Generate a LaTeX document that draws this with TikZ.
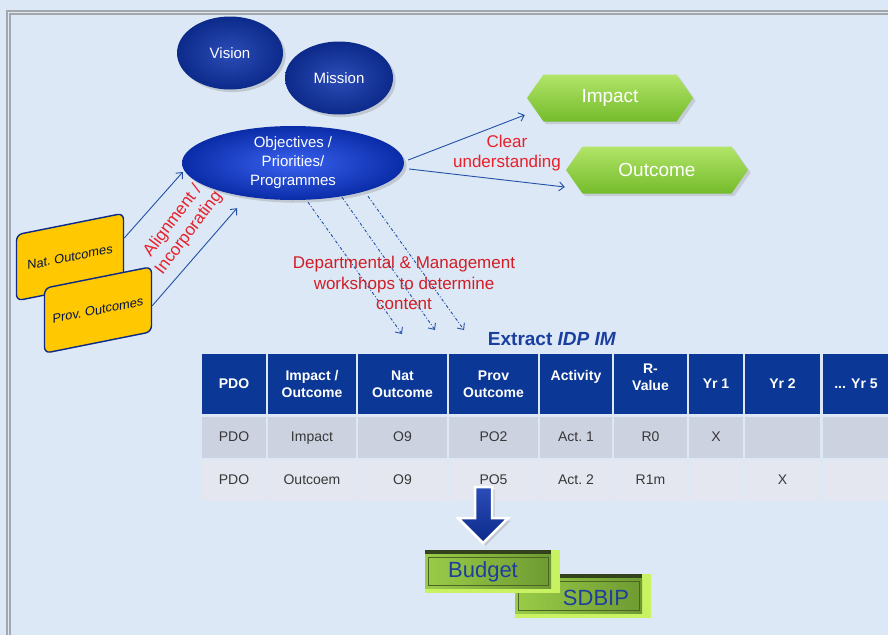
\documentclass[tikz,border=0pt]{standalone}
\usepackage{fontspec}
\setmainfont{Liberation Sans}
\usetikzlibrary{calc,shapes.geometric,shapes.symbols,arrows.meta,shadows}

\definecolor{bgblue}{HTML}{DCE8F5}
\definecolor{framegray}{HTML}{A3A6AA}
\definecolor{navy}{HTML}{0C2A8A}
\definecolor{navylight}{HTML}{2C4DB8}
\definecolor{royal}{HTML}{3A62F0}
\definecolor{royaldark}{HTML}{0A2CA8}
\definecolor{linkblue}{HTML}{2350A8}
\definecolor{alertred}{HTML}{E8202A}
\definecolor{boxyellow}{HTML}{FFC800}
\definecolor{hexgreen}{HTML}{B2E468}
\definecolor{hexgreendark}{HTML}{74BC2C}
\definecolor{hdrblue}{HTML}{0B3796}
\definecolor{rowone}{HTML}{CCD2E0}
\definecolor{rowtwo}{HTML}{E4E7EF}
\definecolor{extractblue}{HTML}{1B3FA0}
\definecolor{bevelface}{HTML}{9ACC48}
\definecolor{bevelfacedark}{HTML}{6E9A32}
\definecolor{bevellight}{HTML}{C9F263}
\definecolor{beveltop}{HTML}{33421A}
\definecolor{bevelline}{HTML}{4A6622}
\definecolor{budgetblue}{HTML}{1E3E9E}

% bevelled green plate: name, x1, y1, x2, y2
\newcommand\bevelplate[5]{%
  \fill[bevellight] (#2,#3) rectangle (#4,#5);
  \fill[beveltop] (#2,#3) -- (#4-9,#3) -- (#4-9,#3+4) -- (#2,#3+4) -- cycle;
  \shade[left color=bevelface, right color=bevelfacedark] (#2,#3+4) rectangle (#4-9,#5-5);
  \draw[bevelline, line width=0.7pt] (#2+3,#3+7) rectangle (#4-12,#5-8);
  \coordinate (#1) at ({(#2+#4-9)/2},{(#3+#5)/2});
}

\tikzset{
  oval/.style={ellipse, inner sep=0pt, text=white, align=center,
    font=\fontsize{15}{19}\selectfont, drop shadow={opacity=0.3}},
  outcomebox/.style={rectangle, rounded corners=6pt, draw=navy, line width=1.4pt,
    fill=boxyellow, text=navy!50!black, font=\fontsize{12.8}{15}\selectfont,
    minimum width=107pt, inner sep=0pt, yslant=0.2},
  greenhex/.style={signal, signal to=east and west, signal pointer angle=110,
    top color=hexgreen, bottom color=hexgreendark, text=white, inner sep=0pt,
    font=\fontsize{19}{22}\selectfont, minimum height=47pt, drop shadow={opacity=0.25}},
  link/.style={linkblue, line width=0.9pt, -{Straight Barb[length=5pt,width=9pt]}},
  linkdash/.style={link, dash dot},
  redlabel/.style={text=alertred, align=center, font=\fontsize{17}{20}\selectfont},
  cell/.style={rectangle, inner sep=0pt, align=center},
  hdrcell/.style={cell, fill=hdrblue, text=white, minimum height=60pt,
    font=\bfseries\fontsize{14}{17}\selectfont},
  rowcell/.style={cell, text=black!78, minimum height=41pt, text height=10pt, text depth=3pt,
    font=\fontsize{14}{17}\selectfont},
}

\begin{document}
\begin{tikzpicture}[x=1pt,y=-1pt]
  \useasboundingbox (0,0) rectangle (888,635);
  \fill[bgblue] (0,0) rectangle (888,635);
  \draw[framegray, line width=1.2pt] (7,635) -- (7,11) -- (888,11);
  \draw[framegray, line width=1.2pt] (10,635) -- (10,14) -- (888,14);

  % top ovals
  \node[oval, minimum width=106pt, minimum height=73pt, inner color=navylight, outer color=navy] (vision) at (230,53) {Vision};
  \node[oval, minimum width=108pt, minimum height=73pt, inner color=navylight, outer color=navy] (mission) at (339,78) {Mission};
  \node[oval, minimum width=222pt, minimum height=74pt, inner color=royal, outer color=royaldark] (obj) at (293,163) {Objectives /\\Priorities/\\Programmes};

  % yellow outcome cards
  \node[outcomebox, minimum height=66pt] (nat) at (70,257) {Nat.\ Outcomes};
  \node[outcomebox, minimum height=65pt] (prov) at (98,310) {Prov.\ Outcomes};

  \draw[link] ($(nat.north east)!0.38!(nat.south east)$) -- ($(obj.west)+(1,9)$);
  \draw[link] ($(prov.north east)!0.6!(prov.south east)$) -- ($(obj.south)+(-56,8)$);
  \node[redlabel, rotate=53] (align) at (181,227) {Alignment /\\Incorporating};

  % impact / outcome
  \node[greenhex, minimum width=166pt] (impact) at (610,98) {Impact};
  \node[greenhex, minimum width=182pt] (outcome) at (657,170) {Outcome};
  \draw[link] ($(obj.east)+(4,-3)$) -- ($(impact.west)+(-2,17)$);
  \draw[link] ($(obj.east)+(5,6)$) -- ($(outcome.west)+(-1,17)$);
  \node[redlabel] (clear) at (507,153) {Clear\\understanding};

  % workshops
  \coordinate (ws1) at (402,334);
  \coordinate (ws2) at (435,330);
  \coordinate (ws3) at (464,330);
  \draw[linkdash] ($(obj.south)+(15,2)$) -- (ws1);
  \draw[linkdash] ($(obj.south)+(49,-3)$) -- (ws2);
  \draw[linkdash] ($(obj.south)+(75,-4)$) -- (ws3);
  \node[redlabel, text=alertred!90!black, font=\fontsize{17}{20.5}\selectfont] (workshop) at (404,283) {Departmental \& Management\\workshops to determine\\content};

  % IDP extract table
  \node[text=extractblue, font=\bfseries\fontsize{19}{22}\selectfont] (extract) at (552,339) {Extract \textit{IDP IM}};

  \node[hdrcell, minimum width=64pt] (h1) at (234,384) {PDO};
  \node[hdrcell, minimum width=88pt] (h2) at (312,384) {Impact /\\Outcome};
  \node[hdrcell, minimum width=89pt] (h3) at (402.5,384) {Nat\\Outcome};
  \node[hdrcell, minimum width=89pt] (h4) at (493.5,384) {Prov\\Outcome};
  \node[hdrcell, minimum width=72pt] (h5) at (576,384) {};
  \node[hdrcell, fill=none] (h5t) at (576,377) {Activity};
  \node[hdrcell, minimum width=73pt] (h6) at (650.5,384) {};
  \node[hdrcell, fill=none] (h6t) at (650.5,377) {R-\\Value};
  \node[hdrcell, minimum width=54pt] (h7) at (716,384) {Yr 1};
  \node[hdrcell, minimum width=75pt] (h8) at (782.5,384) {Yr 2};
  \node[hdrcell, minimum width=66pt] (h9) at (856,384) {... Yr 5};

  \node[rowcell, fill=rowone, minimum width=64pt] (a1) at (234,437.5) {PDO};
  \node[rowcell, fill=rowone, minimum width=88pt] (a2) at (312,437.5) {Impact};
  \node[rowcell, fill=rowone, minimum width=89pt] (a3) at (402.5,437.5) {O9};
  \node[rowcell, fill=rowone, minimum width=89pt] (a4) at (493.5,437.5) {PO2};
  \node[rowcell, fill=rowone, minimum width=72pt] (a5) at (576,437.5) {Act.\ 1};
  \node[rowcell, fill=rowone, minimum width=73pt] (a6) at (650.5,437.5) {R0};
  \node[rowcell, fill=rowone, minimum width=54pt] (a7) at (716,437.5) {X};
  \node[rowcell, fill=rowone, minimum width=75pt] (a8) at (782.5,437.5) {};
  \node[rowcell, fill=rowone, minimum width=66pt] (a9) at (856,437.5) {};

  \node[rowcell, fill=rowtwo, minimum width=64pt] (b1) at (234,480.5) {PDO};
  \node[rowcell, fill=rowtwo, minimum width=88pt] (b2) at (312,480.5) {Outcoem};
  \node[rowcell, fill=rowtwo, minimum width=89pt] (b3) at (402.5,480.5) {O9};
  \node[rowcell, fill=rowtwo, minimum width=89pt] (b4) at (493.5,480.5) {PO5};
  \node[rowcell, fill=rowtwo, minimum width=72pt] (b5) at (576,480.5) {Act.\ 2};
  \node[rowcell, fill=rowtwo, minimum width=73pt] (b6) at (650.5,480.5) {R1m};
  \node[rowcell, fill=rowtwo, minimum width=54pt] (b7) at (716,480.5) {};
  \node[rowcell, fill=rowtwo, minimum width=75pt] (b8) at (782.5,480.5) {X};
  \node[rowcell, fill=rowtwo, minimum width=66pt] (b9) at (856,480.5) {};

  % down arrow to budget
  \draw[white, line width=2.5pt, top color=navylight, bottom color=navy, drop shadow={opacity=0.3}]
    (475,487) -- (492,487) -- (492,518) -- (508,518) -- (483,543) -- (458,518) -- (475,518) -- cycle;

  \bevelplate{sdbipc}{515}{574}{651}{618}
  \bevelplate{budgetc}{425}{550}{560}{593}
  \node[text=budgetblue, font=\fontsize{22}{24}\selectfont] (sdbip) at (596,598) {SDBIP};
  \node[text=budgetblue, font=\fontsize{22}{24}\selectfont] (budget) at (483,572) {Budget};
\end{tikzpicture}
\end{document}
